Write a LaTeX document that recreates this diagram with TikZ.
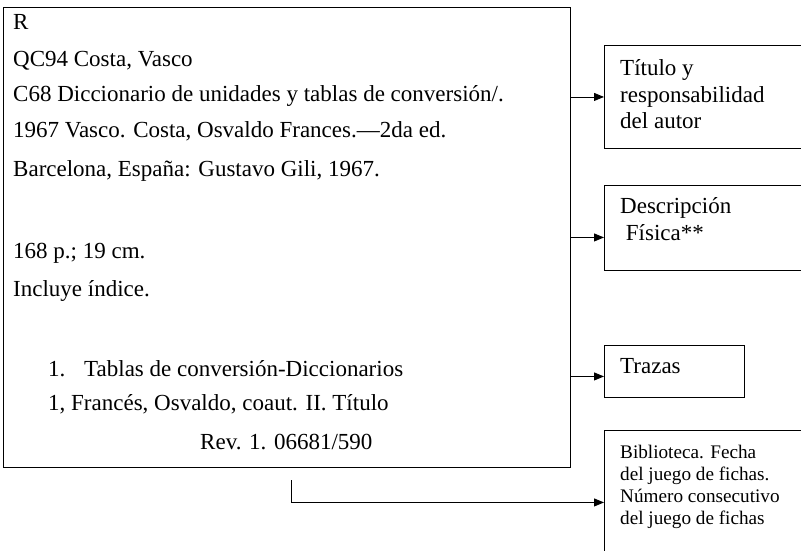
\documentclass[tikz,border=0pt]{standalone}
\usepackage{fontspec}
\setmainfont{Liberation Serif}
\usetikzlibrary{arrows.meta, positioning}
\tikzset{
card/.style={draw=black, line width=0.9pt, inner sep=0pt, anchor=north west}, % the card and the boxes
txt/.style={anchor=base west, inner sep=0pt, font=\fontsize{23}{26}\selectfont}, % one line of text
small/.style={anchor=base west, inner sep=0pt, font=\fontsize{19.2}{22}\selectfont}, % smaller text of the last box
conn/.style={line width=0.9pt, -{Triangle[length=10pt,width=8pt]}}, % the arrows
}

\begin{document}
\begin{tikzpicture}[x=1pt, y=-1pt]
\clip (0,0) rectangle (801,550);
% the card
\node[card, minimum width=567pt, minimum height=460pt] (ficha) at (3,7) {};
\node[txt] (r) at (13,29) {R};
\node[txt] (qc) at (13,66) {QC94 Costa, Vasco};
\node[txt] (cs) at (13,101) {C68 Diccionario de unidades y tablas de conversión/.};
\node[txt] (ed) at (13,137) {1967 Vasco. Costa, Osvaldo Frances.—2da ed.};
\node[txt] (pie) at (13,176) {Barcelona, España: Gustavo Gili, 1967.};
\node[txt] (pag) at (13,258) {168 p.; 19 cm.};
\node[txt] (ind) at (13,296) {Incluye índice.};
\node[txt] (n1) at (48,376) {1.};
\node[txt] (tr1) at (84,376) {Tablas de conversión-Diccionarios};
\node[txt] (tr2) at (48,410) {1, Francés, Osvaldo, coaut. II. Título};
\node[txt] (rev) at (200,449) {Rev. 1. 06681/590};
% boxes on the right
\node[card, minimum width=230pt, minimum height=103pt] (titulo) at (604,45) {};
\node[txt] (t1) at (620,75) {Título y};
\node[txt] (t2) at (620,102) {responsabilidad};
\node[txt] (t3) at (620,128) {del autor};
\node[card, minimum width=230pt, minimum height=85pt] (desc) at (604,185) {};
\node[txt] (d1) at (620,213) {Descripción};
\node[txt] (d2) at (620,240) {\ Física**};
\node[card, minimum width=140pt, minimum height=52pt] (trazas) at (604,345) {};
\node[txt] (z1) at (620,373) {Trazas};
\node[card, minimum width=230pt, minimum height=144pt] (biblio) at (604,430) {};
\node[small] (b1) at (620,458) {Biblioteca. Fecha};
\node[small] (b2) at (620,480) {del juego de fichas.};
\node[small] (b3) at (620,502) {Número consecutivo};
\node[small] (b4) at (620,524) {del juego de fichas};
% arrows
\coordinate (dm) at ([yshift=-9.5pt]desc.west);
\coordinate (zm) at ([yshift=-5pt]trazas.west);
\coordinate (tick) at (291,480);
\draw[conn] (ficha.east |- titulo.west) -- (titulo.west);
\draw[conn] (ficha.east |- dm) -- (dm);
\draw[conn] (ficha.east |- zm) -- (zm);
\draw[conn] (tick) |- (biblio.west);
\end{tikzpicture}
\end{document}
